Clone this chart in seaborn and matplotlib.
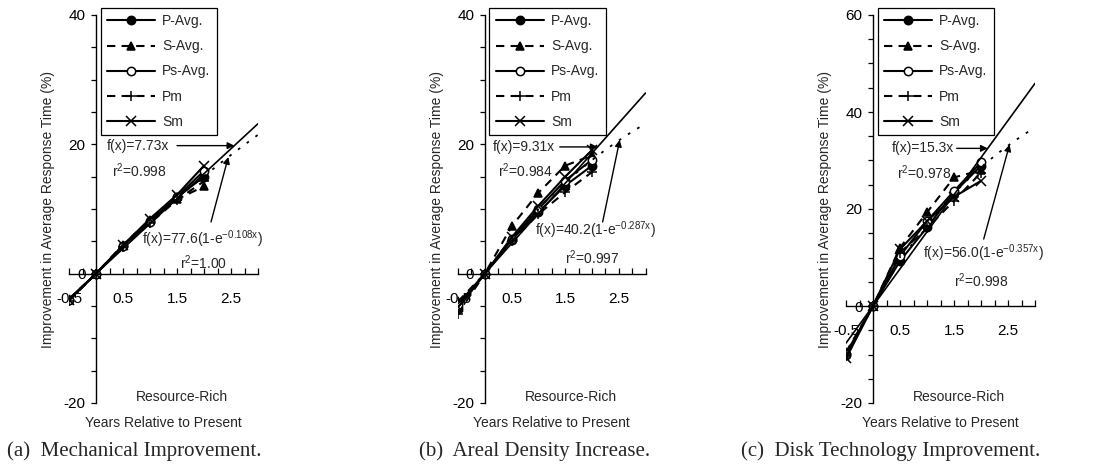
import numpy as np
import pandas as pd
import matplotlib
matplotlib.use("Agg")
import matplotlib.pyplot as plt
import seaborn as sns

# ---------------- data ----------------
x_years = [-0.5, 0, 0.5, 1, 1.5, 2]
series_names = ["P-Avg.", "S-Avg.", "Ps-Avg.", "Pm", "Sm"]

# (a) Mechanical Improvement
mech_p_avg = [-4.0, 0, 4.3, 8.1, 11.8, 15.0]
mech_s_avg = [-3.9, 0, 4.5, 8.3, 11.5, 13.5]
mech_ps_avg = [-4.1, 0, 4.3, 8.0, 11.9, 15.9]
mech_pm = [-4.2, 0, 4.2, 7.8, 11.4, 14.3]
mech_sm = [-4.0, 0, 4.4, 8.5, 12.2, 16.7]

# (b) Areal Density Increase
areal_p_avg = [-5.4, 0, 5.2, 9.5, 13.6, 16.7]
areal_s_avg = [-4.3, 0, 7.3, 12.5, 16.7, 18.3]
areal_ps_avg = [-4.8, 0, 5.3, 10.0, 14.4, 17.6]
areal_pm = [-6.2, 0, 5.0, 9.2, 12.6, 15.7]
areal_sm = [-5.2, 0, 5.6, 10.5, 15.0, 19.1]

# (c) Disk Technology Improvement
disk_p_avg = [-10.0, 0, 9.3, 16.2, 23.4, 28.9]
disk_s_avg = [-9.5, 0, 12.0, 19.3, 26.5, 28.0]
disk_ps_avg = [-9.8, 0, 10.3, 17.5, 23.7, 29.6]
disk_pm = [-10.3, 0, 11.0, 16.0, 21.7, 27.5]
disk_sm = [-10.8, 0, 11.7, 17.5, 22.5, 25.8]

captions = ["(a)  Mechanical Improvement.", "(b)  Areal Density Increase.",
            "(c)  Disk Technology Improvement."]
lin_slopes = [7.73, 9.31, 15.3]
lin_r2 = ["0.998", "0.984", "0.978"]
exp_amp = [77.6, 40.2, 56.0]
exp_rate = [0.108, 0.287, 0.357]
exp_amp_txt = ["77.6", "40.2", "56.0"]
exp_r2 = ["1.00", "0.997", "0.998"]
y_limits = [(-20, 40), (-20, 40), (-20, 60)]
x_tick_labels = ["-0.5", "0.5", "1.5", "2.5"]
ylabel = "Improvement in Average Response Time (%)"
xlabel = "Years Relative to Present"
scenario = "Resource-Rich"

panels = [
    [mech_p_avg, mech_s_avg, mech_ps_avg, mech_pm, mech_sm],
    [areal_p_avg, areal_s_avg, areal_ps_avg, areal_pm, areal_sm],
    [disk_p_avg, disk_s_avg, disk_ps_avg, disk_pm, disk_sm],
]

# ---------------- style ----------------
sns.set_style("ticks")
plt.rcParams["font.family"] = ["Liberation Sans", "DejaVu Sans"]
plt.rcParams["mathtext.default"] = "regular"

styles = [
    dict(linestyle="-", marker="o", mfc="black", markersize=6),
    dict(linestyle=(0, (4, 3)), marker="^", mfc="black", markersize=6),
    dict(linestyle="-", marker="o", mfc="white", markersize=6),
    dict(linestyle=(0, (4, 3)), marker="+", mfc="black", markersize=7.5),
    dict(linestyle="-", marker="x", mfc="black", markersize=6.5),
]

fig = plt.figure(figsize=(11.02, 4.71), dpi=100)
lefts = [69 / 1102, 458 / 1102, 846 / 1102]
widths = [189 / 1102, 187.5 / 1102, 189 / 1102]
bottom = 1 - 403 / 471
height = 388 / 471
caption_x = [134 / 1102, 535 / 1102, 891 / 1102]

# annotation positions (data coords) per panel
lin_text_pos = [(0.2, 19.8), (0.15, 19.6), (0.34, 32.5)]
lin_arrow_start = [1.5, 1.4, 1.55]
lin_r2_pos = [(0.3, 16.0), (0.24, 16.0), (0.44, 27.4)]
exp_text_pos = [(0.85, 5.4), (0.93, 6.7), (0.92, 10.8)]
exp_r2_pos = [(2.0, 1.75), (2.0, 2.5), (2.0, 5.3)]
exp_arrow_start = [(2.13, 8.0), (2.2, 8.0), (2.05, 13.8)]
exp_arrow_end_x = [2.45, 2.52, 2.53]

fs = 10
tfs = 11
for i in range(3):
    ax = fig.add_axes([lefts[i], bottom, widths[i], height])
    handles = []
    for name, vals, st in zip(series_names, panels[i], styles):
        sns.lineplot(x=x_years, y=vals, ax=ax, color="black", lw=1.5,
                     mec="black", mew=1.1, errorbar=None, sort=False,
                     legend=False, **st)
        handles.append(ax.lines[-1])

    xs = np.linspace(-0.5, 3.0, 200)
    sns.lineplot(x=xs, y=lin_slopes[i] * xs, ax=ax, color="black", lw=1.2,
                 errorbar=None, legend=False)
    exp_y = exp_amp[i] * (1 - np.exp(-exp_rate[i] * xs))
    sns.lineplot(x=xs, y=exp_y, ax=ax, color="black", lw=1.3,
                 linestyle=(0, (1.5, 4.5)), errorbar=None, legend=False)

    lo, hi = y_limits[i]
    ax.set_xlim(-0.5, 3.0)
    ax.set_ylim(lo, hi)
    ax.spines["left"].set_position(("data", 0))
    ax.spines["bottom"].set_position(("data", 0))
    ax.spines["top"].set_visible(False)
    ax.spines["right"].set_visible(False)
    for s in ["left", "bottom"]:
        ax.spines[s].set_linewidth(1.0)
        ax.spines[s].set_color("black")

    xt = np.arange(-0.5, 3.001, 0.25)
    ax.set_xticks(xt)
    ax.set_xticklabels([x_tick_labels[[-0.5, 0.5, 1.5, 2.5].index(v)]
                        if v in (-0.5, 0.5, 1.5, 2.5) else "" for v in xt])
    yt = np.arange(lo, hi + 0.1, 5)
    ax.set_yticks(yt)
    ax.set_yticklabels([f"{int(v)}" if v % 20 == 0 else "" for v in yt])
    ax.tick_params(axis="x", direction="in", length=4, width=0.9, pad=13,
                   labelsize=tfs, colors="black")
    ax.tick_params(axis="y", direction="out", length=3.5, width=0.9, pad=4,
                   labelsize=tfs, colors="black")
    ax.set_xlabel("")
    ax.set_ylabel("")

    # legend
    leg = ax.legend(handles, series_names, loc="upper left",
                    bbox_to_anchor=(0.167, 1.018), borderaxespad=0,
                    frameon=True, fancybox=False, edgecolor="black",
                    framealpha=1, handlelength=3.5, handletextpad=0.5,
                    labelspacing=0.8, borderpad=0.45, fontsize=fs)
    leg.get_frame().set_linewidth(0.9)

    # annotations: linear fit
    tx, ty = lin_text_pos[i]
    ax.text(tx, ty, f"f(x)={lin_slopes[i]}x", fontsize=fs, ha="left",
            va="center")
    ax.annotate("", xy=(ty / lin_slopes[i], ty), xytext=(lin_arrow_start[i], ty),
                arrowprops=dict(arrowstyle="-|>", color="black", lw=1.0,
                                mutation_scale=10, shrinkA=0, shrinkB=0))
    rx, ry = lin_r2_pos[i]
    ax.text(rx, ry, f"r$^{{2}}$={lin_r2[i]}", fontsize=fs, ha="left",
            va="center")

    # annotations: exponential fit
    ex, ey = exp_text_pos[i]
    ax.text(ex, ey,
            f"f(x)={exp_amp_txt[i]}(1-e$^{{-{exp_rate[i]}x}}$)",
            fontsize=fs, ha="left", va="center")
    r2x, r2y = exp_r2_pos[i]
    ax.text(r2x, r2y, f"r$^{{2}}$={exp_r2[i]}", fontsize=fs, ha="center",
            va="center")
    axe = exp_arrow_end_x[i]
    aye = exp_amp[i] * (1 - np.exp(-exp_rate[i] * axe))
    ax.annotate("", xy=(axe, aye), xytext=exp_arrow_start[i],
                arrowprops=dict(arrowstyle="-|>", color="black", lw=1.0,
                                mutation_scale=10, shrinkA=0, shrinkB=0))

    # labels
    ax.text(0.6, 0.016, scenario, transform=ax.transAxes, fontsize=fs,
            ha="center", va="center")
    ax.text(0.5, -0.052, xlabel, transform=ax.transAxes, fontsize=fs,
            ha="center", va="center")
    fig.text(lefts[i] - 21 / 1102, bottom + height / 2, ylabel, rotation=90,
             fontsize=fs, ha="center", va="center")
    fig.text(caption_x[i], 1 - 451 / 471, captions[i],
             family=["Liberation Serif", "DejaVu Serif"], fontsize=15,
             ha="center", va="center")

fig.savefig("out.png", dpi=100)
